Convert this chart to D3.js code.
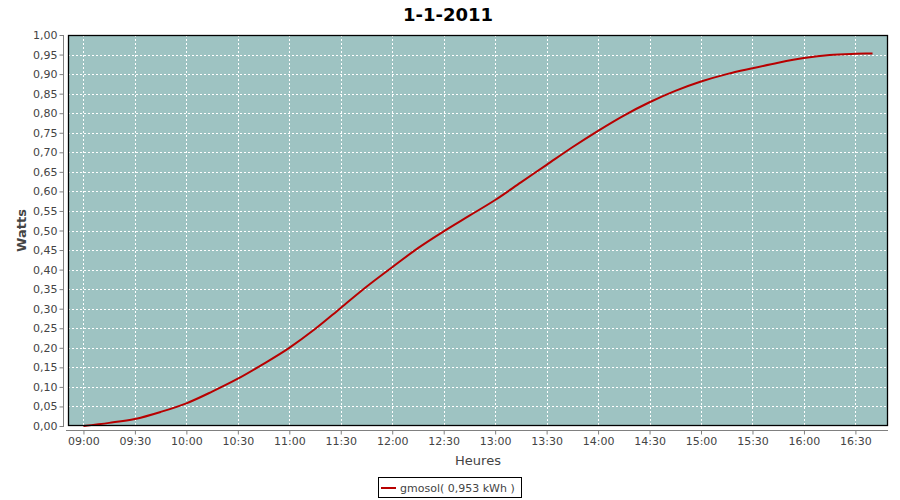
<!DOCTYPE html>
<html><head><meta charset="utf-8">
<script src="https://cdn.jsdelivr.net/npm/d3@7"></script>
<style>body{margin:0;background:#fff}svg{display:block}</style>
</head><body>
<svg id="c" width="900" height="500"></svg>
<script>
const title = "1-1-2011";
const seriesName = "gmosol( 0,953 kWh )";
const times = ["09:00","09:15","09:30","09:45","10:00","10:15","10:30","10:45","11:00","11:15","11:30","11:45","12:00","12:15","12:30","12:45","13:00","13:15","13:30","13:45","14:00","14:15","14:30","14:45","15:00","15:15","15:30","15:45","16:00","16:15","16:30","16:40"];
const values = [0.000,0.008,0.018,0.036,0.058,0.088,0.121,0.159,0.200,0.248,0.302,0.356,0.406,0.455,0.498,0.538,0.578,0.623,0.668,0.713,0.755,0.794,0.828,0.857,0.881,0.900,0.915,0.929,0.941,0.949,0.952,0.953];
const xTickLabels = ["09:00","09:30","10:00","10:30","11:00","11:30","12:00","12:30","13:00","13:30","14:00","14:30","15:00","15:30","16:00","16:30"];
const xDomain = ["08:51","16:49"];
const yTicks = d3.range(0, 1.0001, 0.05);

const parse = d3.timeParse("%H:%M");
const data = times.map((t,i)=>({t:parse(t), v:values[i]}));

const svg = d3.select("#c");
const L=68, R=888, T=35, B=426;
const x = d3.scaleTime().domain(xDomain.map(parse)).range([L,R]);
const y = d3.scaleLinear().domain([0,1]).range([B,T]);
const fmtY = v => d3.format(".2f")(v).replace(".", ",");

svg.append("rect").attr("x",L).attr("y",T).attr("width",R-L).attr("height",B-T).attr("fill","#9ec3c2");

const g = svg.append("g");
g.selectAll(".hy").data(yTicks.slice(1)).join("line")
 .attr("x1",L).attr("x2",R).attr("y1",d=>Math.round(y(d))+0.5).attr("y2",d=>Math.round(y(d))+0.5)
 .attr("stroke","#fff").attr("stroke-width",1).attr("stroke-dasharray","2,2");
g.selectAll(".vx").data(xTickLabels.map(parse)).join("line")
 .attr("y1",T).attr("y2",B).attr("x1",d=>Math.round(x(d))+0.5).attr("x2",d=>Math.round(x(d))+0.5)
 .attr("stroke","#fff").attr("stroke-width",1).attr("stroke-dasharray","2,2");

svg.append("path").datum(data)
 .attr("fill","none").attr("stroke","#b80000").attr("stroke-width",2)
 .attr("d", d3.line().x(d=>x(d.t)).y(d=>y(d.v)).curve(d3.curveMonotoneX));

svg.append("rect").attr("x",L+0.5).attr("y",T+0.5).attr("width",R-L-1).attr("height",B-T-1)
 .attr("fill","none").attr("stroke","#000").attr("stroke-width",1.3);

const yAxis = d3.axisLeft(y).tickValues(yTicks).tickFormat(fmtY).tickSize(4).tickPadding(2);
const ya = svg.append("g").attr("transform",`translate(${L-4.5},0)`).call(yAxis);
const xAxis = d3.axisBottom(x).tickValues(xTickLabels.map(parse)).tickFormat(d3.timeFormat("%H:%M")).tickSize(4).tickPadding(3);
const xa = svg.append("g").attr("transform",`translate(0,${B+4.5})`).call(xAxis);
[ya,xa].forEach(a=>{
  a.selectAll("path").attr("stroke","#808080");
  a.selectAll("line").attr("stroke","#808080");
  a.selectAll("text").attr("fill","#444").style("font-family","DejaVu Sans").style("font-size","11px");
});
xa.select("path").attr("d",`M${L-2},0H${R}`);
ya.select("path").attr("d",`M0,${T}V${B+1}`);

svg.append("text").attr("x",448).attr("y",21).attr("text-anchor","middle")
 .style("font-family","DejaVu Sans").style("font-weight","bold").style("font-size","18px").attr("fill","#000").text(title);
svg.append("text").attr("x",(L+R)/2).attr("y",465).attr("text-anchor","middle")
 .style("font-family","DejaVu Sans").style("font-size","13px").attr("fill","#444").text("Heures");
svg.append("text").attr("transform",`translate(26,${(T+B)/2}) rotate(-90)`).attr("text-anchor","middle")
 .style("font-family","DejaVu Sans").style("font-weight","bold").style("font-size","13px").attr("fill","#444").text("Watts");

const lg = svg.append("g");
lg.append("rect").attr("x",378.5).attr("y",477.5).attr("width",143).attr("height",20).attr("fill","#fff").attr("stroke","#000");
lg.append("line").attr("x1",381).attr("x2",396).attr("y1",488).attr("y2",488).attr("stroke","#b80000").attr("stroke-width",2);
lg.append("text").attr("x",400).attr("y",492).style("font-family","DejaVu Sans").style("font-size","11px").attr("fill","#444").text(seriesName);
</script>
</body></html>
